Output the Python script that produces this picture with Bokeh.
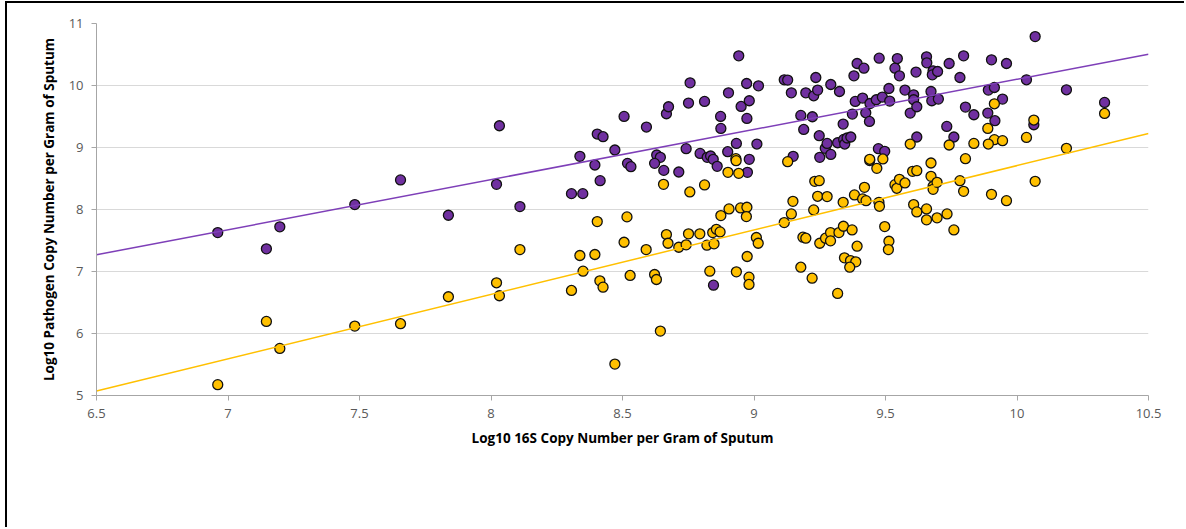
from bokeh.plotting import figure
from bokeh.models import Range1d, FixedTicker
from bokeh.embed import file_html
from bokeh.resources import INLINE

# Log10 16S copy number (x) vs log10 pathogen copy number (y), two series
purple_x = [6.961, 7.146, 7.197, 7.482, 7.656, 7.838, 8.021, 8.032, 8.110, 8.306,
            8.349, 8.338, 8.395, 8.415, 8.404, 8.426, 8.471, 8.506, 8.519, 8.532,
            8.591, 8.630, 8.644, 8.622, 8.657, 8.667, 8.675, 8.714, 8.742, 8.751,
            8.757, 8.795, 8.812, 8.822, 8.835, 8.845, 8.860, 8.873, 8.874, 8.903,
            8.900, 8.933, 8.942, 8.951, 8.972, 8.973, 8.982, 8.982, 8.975, 9.011,
            9.017, 9.115, 9.128, 9.142, 9.149, 9.178, 9.189, 9.197, 9.222, 9.227,
            9.235, 9.242, 9.248, 9.250, 9.271, 9.278, 9.292, 9.292, 9.318, 9.325,
            9.339, 9.341, 9.345, 9.354, 9.368, 9.374, 9.380, 9.385, 9.392, 9.413,
            9.418, 9.425, 9.439, 9.441, 9.465, 9.473, 9.476, 9.488, 9.497, 9.513,
            9.516, 9.536, 9.545, 9.553, 9.574, 9.594, 9.607, 9.607, 9.616, 9.619,
            9.619, 9.656, 9.657, 9.673, 9.676, 9.681, 9.678, 9.698, 9.701, 9.742,
            9.797, 9.783, 9.903, 9.960, 10.069, 10.036, 9.891, 9.914, 9.945, 10.188,
            10.333, 9.804, 9.836, 9.889, 9.916, 9.733, 9.760, 10.064, 8.846]
purple_y = [7.628, 7.365, 7.720, 8.079, 8.477, 7.907, 8.406, 9.351, 8.047, 8.256,
            8.256, 8.857, 8.718, 8.465, 9.217, 9.174, 8.960, 9.501, 8.744, 8.691,
            9.330, 8.879, 8.841, 8.744, 8.631, 9.544, 9.657, 8.605, 8.981, 9.717,
            10.043, 8.905, 9.743, 8.841, 8.863, 8.809, 8.696, 9.501, 9.308, 9.882,
            8.932, 9.066, 10.478, 9.662, 10.032, 9.469, 9.754, 8.809, 8.599, 9.056,
            9.995, 10.092, 10.087, 9.882, 8.857, 9.517, 9.291, 9.882, 9.496, 9.834,
            10.129, 9.926, 9.190, 8.841, 8.986, 9.066, 10.016, 8.889, 9.077, 9.903,
            9.378, 9.130, 9.056, 9.153, 9.169, 9.539, 10.156, 9.743, 10.355, 9.797,
            10.280, 9.560, 9.420, 9.710, 9.770, 8.981, 10.441, 9.813, 8.938, 9.952,
            9.749, 10.280, 10.435, 10.156, 9.926, 9.555, 9.850, 9.770, 10.216, 9.169,
            9.657, 10.462, 10.366, 9.903, 9.754, 10.237, 10.172, 10.226, 9.781, 10.355,
            10.478, 10.129, 10.414, 10.355, 10.789, 10.092, 9.926, 9.968, 9.781, 9.931,
            9.727, 9.652, 9.528, 9.555, 9.432, 9.340, 9.169, 9.367, 6.780]

yellow_x = [6.961, 7.146, 7.197, 7.482, 7.656, 7.838, 8.110, 8.021, 8.032, 8.306,
            8.338, 8.350, 8.395, 8.404, 8.414, 8.426, 8.471, 8.506, 8.517, 8.529,
            8.590, 8.622, 8.629, 8.644, 8.667, 8.673, 8.714, 8.656, 8.756, 8.812,
            8.931, 8.932, 8.901, 8.942, 8.874, 8.905, 8.949, 8.973, 8.971, 9.128,
            9.148, 9.142, 9.227, 9.231, 9.248, 9.242, 9.278, 9.339, 9.382, 9.413,
            9.420, 9.426, 9.440, 9.440, 9.467, 9.475, 9.477, 9.490, 9.536, 9.543,
            9.553, 9.574, 9.594, 9.603, 9.619, 9.607, 9.619, 9.656, 9.673, 9.673,
            9.681, 9.681, 9.696, 8.742, 8.751, 8.794, 8.821, 8.848, 8.843, 8.857,
            8.871, 8.832, 8.933, 8.974, 8.981, 8.981, 9.009, 9.016, 9.115, 9.178,
            9.186, 9.197, 9.221, 9.250, 9.272, 9.291, 9.291, 9.318, 9.323, 9.340,
            9.373, 9.392, 9.344, 9.367, 9.387, 9.364, 9.497, 9.513, 9.511, 9.656,
            9.696, 10.064, 10.333, 9.914, 9.889, 10.036, 9.914, 9.945, 9.891, 9.836,
            9.742, 10.188, 9.804, 9.783, 10.069, 9.797, 9.903, 9.960, 9.734, 9.760]
yellow_y = [5.175, 6.195, 5.760, 6.120, 6.158, 6.593, 7.354, 6.818, 6.609, 6.694,
            7.258, 7.005, 7.274, 7.805, 6.850, 6.747, 5.507, 7.472, 7.881, 6.936,
            7.354, 6.952, 6.871, 6.039, 7.596, 7.456, 7.391, 8.406, 8.283, 8.396,
            8.820, 8.788, 8.599, 8.583, 7.902, 8.010, 8.026, 8.036, 7.886, 8.771,
            8.132, 7.929, 7.993, 8.454, 8.465, 8.213, 8.208, 8.116, 8.235, 8.171,
            8.358, 8.143, 8.790, 8.810, 8.664, 8.116, 8.052, 8.815, 8.401, 8.342,
            8.486, 8.428, 9.056, 8.615, 8.626, 8.079, 7.961, 8.010, 8.750, 8.535,
            8.374, 8.325, 8.438, 7.430, 7.607, 7.607, 7.424, 7.446, 7.628, 7.681,
            7.639, 7.005, 6.995, 7.242, 6.909, 6.791, 7.548, 7.456, 7.789, 7.069,
            7.553, 7.537, 6.893, 7.456, 7.537, 7.628, 7.494, 6.646, 7.628, 7.730,
            7.671, 7.408, 7.220, 7.177, 7.156, 7.069, 7.725, 7.488, 7.354, 7.833,
            7.865, 9.443, 9.549, 9.705, 9.308, 9.163, 9.126, 9.110, 9.056, 9.066,
            9.040, 8.986, 8.820, 8.465, 8.454, 8.293, 8.245, 8.143, 7.929, 7.671]

# Linear trend lines: slope, intercept
purple_trend = (0.809, 2.010)
yellow_trend = (1.0385, -1.677)
trend_x = [6.5, 10.5]

x_ticks = [6.5, 7, 7.5, 8, 8.5, 9, 9.5, 10, 10.5]
x_tick_labels = ["6.5", "7", "7.5", "8", "8.5", "9", "9.5", "10", "10.5"]
y_ticks = [5, 6, 7, 8, 9, 10, 11]
y_tick_labels = ["5", "6", "7", "8", "9", "10", "11"]

x_title = "Log10 16S Copy Number per Gram of Sputum"
y_title = "Log10 Pathogen Copy Number per Gram of Sputum"

PURPLE = "#7030A0"
PURPLE_LINE = "#7E3FB8"
YELLOW = "#FFC000"
FONT = "Open Sans"

p = figure(width=1179, height=526, output_backend="svg", toolbar_location=None,
           x_range=Range1d(6.5, 10.5), y_range=Range1d(5, 11),
           min_border_left=89, min_border_right=38, min_border_top=20,
           min_border_bottom=134, margin=(1, 0, 0, 5),
           styles={"border-left": "2px solid #000", "border-top": "2px solid #000"})
p.outline_line_color = None
p.background_fill_color = "white"
p.border_fill_color = "white"

# Axes
for ax, ticks, labels in ((p.xaxis, x_ticks, x_tick_labels), (p.yaxis, y_ticks, y_tick_labels)):
    ax.ticker = FixedTicker(ticks=ticks)
    ax.major_label_overrides = {t: l for t, l in zip(ticks, labels)}
    ax.minor_tick_line_color = None
    ax.major_tick_in = 0
    ax.major_tick_out = 5
    ax.axis_line_color = "#A6A6A6"
    ax.major_tick_line_color = "#A6A6A6"
    ax.major_label_text_color = "#595959"
    ax.major_label_text_font = FONT
    ax.major_label_text_font_size = "13px"
    ax.axis_label_text_font = FONT
    ax.axis_label_text_font_style = "bold"
    ax.axis_label_text_font_size = "13.5px"
    ax.axis_label_text_color = "#000000"

p.xaxis.axis_label = x_title
p.yaxis.axis_label = y_title
p.xaxis.major_label_standoff = 8
p.yaxis.major_label_standoff = 8
p.xaxis.axis_label_standoff = 8
p.yaxis.axis_label_standoff = 8

p.xgrid.visible = False
p.ygrid.ticker = FixedTicker(ticks=y_ticks)
p.ygrid.grid_line_color = "#D9D9D9"
p.ygrid.grid_line_width = 1

# Points
p.scatter(purple_x, purple_y, size=10, fill_color=PURPLE, line_color="#111111", line_width=1.3)
p.scatter(yellow_x, yellow_y, size=10, fill_color=YELLOW, line_color="#111111", line_width=1.3)

# Trend lines
p.line(trend_x, [purple_trend[0] * x + purple_trend[1] for x in trend_x],
       line_color=PURPLE_LINE, line_width=1.5)
p.line(trend_x, [yellow_trend[0] * x + yellow_trend[1] for x in trend_x],
       line_color=YELLOW, line_width=1.5)

open("out.html", "w").write(file_html(p, INLINE))
